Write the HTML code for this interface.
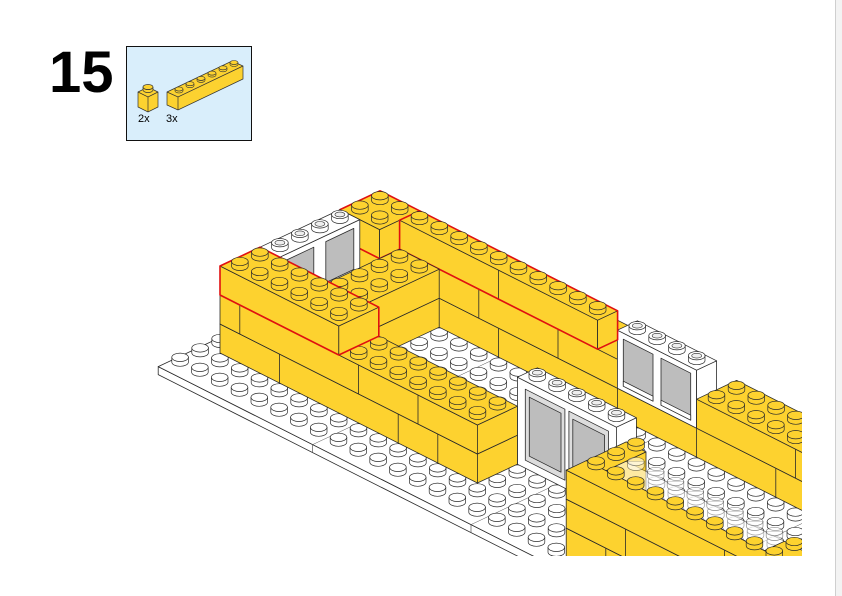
<!DOCTYPE html>
<html><head><meta charset="utf-8">
<style>
html,body{margin:0;padding:0;background:#fff;overflow:hidden;width:842px;height:596px;}
#pg{position:relative;width:842px;height:596px;overflow:hidden;background:#fff;font-family:"Liberation Sans",sans-serif;}
#edge{position:absolute;left:835px;top:0;width:7px;height:596px;background:#f3f3f3;border-left:1px solid #cfcfcf;}
#num{position:absolute;left:49px;top:40px;font-size:58px;font-weight:bold;color:#000;letter-spacing:0px;line-height:66px;}
#box{position:absolute;left:126px;top:46px;width:124px;height:93px;background:#d9eefb;border:1.5px solid #111;}
#model{position:absolute;left:0;top:0;}
</style></head>
<body><div id="pg">
<div id="edge"></div>
<div id="num">15</div>
<div id="box">
<svg width="124" height="93" style="position:absolute;left:0;top:0">
 <g stroke="#333" stroke-width="0.7" fill="#fcd230">
  <polygon points="11,45 21,40 31,45 31,60 21,65 11,60"/>
  <polyline points="11,45 21,50 31,45" fill="none"/><line x1="21" y1="50" x2="21" y2="65"/>
  <path d="M16,43 v-3 a5,2.5 0 0 0 10,0 v3 a5,2.5 0 0 1 -10,0z"/>
  <ellipse cx="21" cy="40" rx="5" ry="2.5"/>
  <polygon points="40,45 105,14 116,19 116,32 51,63 40,58"/>
  <polyline points="40,45 51,50 116,19" fill="none"/><line x1="51" y1="50" x2="51" y2="63"/>
 </g>
 <g stroke="#333" stroke-width="0.6" fill="#fcd230" id="st"></g>
 <text x="11" y="75" font-size="11" font-family="Liberation Sans,sans-serif">2x</text>
 <text x="39" y="75" font-size="11" font-family="Liberation Sans,sans-serif">3x</text>
</svg>
</div>
<svg id="model" width="802" height="556" viewBox="0 0 802 556"></svg>
</div>
<script>
(function(){
 var s='';for(var k=0;k<6;k++){var x=52+k*11,y=44-k*5.3;
 s+='<path d="M'+(x-4)+','+y+' v-2 a4,2 0 0 0 8,0 v2 a4,2 0 0 1 -8,0z"/><ellipse cx="'+x+'" cy="'+(y-2)+'" rx="4" ry="2"/>';}
 document.getElementById('st').innerHTML=s;
})();
(function(){
var O=[160.2,361.8],U=[19.8,10],V=[20,-9.4];
function P(a,b,z){return [O[0]+a*U[0]+b*V[0],O[1]+a*U[1]+b*V[1]-z];}
function pts(arr){return arr.map(function(p){return p[0].toFixed(1)+','+p[1].toFixed(1);}).join(' ');}
var out=[];
var LC='#2a2a2a';
function poly(arr,fill,stroke,sw,extra){out.push('<polygon points="'+pts(arr)+'" fill="'+fill+'" stroke="'+(stroke||LC)+'" stroke-width="'+(sw||0.8)+'" stroke-linejoin="round" '+(extra||'')+'/>');}
function stud(a,b,z,col,hollow,op){
 var c=P(a,b,z),x=c[0],y=c[1],rx=8.3,ry=4.2,h=4.8;
 var o=op?' opacity="'+op+'"':'';
 out.push('<path d="M'+(x-rx).toFixed(1)+','+(y-h).toFixed(1)+' L'+(x-rx).toFixed(1)+','+y.toFixed(1)+' A'+rx+','+ry+' 0 0 0 '+(x+rx).toFixed(1)+','+y.toFixed(1)+' L'+(x+rx).toFixed(1)+','+(y-h).toFixed(1)+' Z" fill="'+col+'" stroke="'+LC+'" stroke-width="0.7"'+o+'/>');
 out.push('<ellipse cx="'+x.toFixed(1)+'" cy="'+(y-h).toFixed(1)+'" rx="'+rx+'" ry="'+ry+'" fill="'+col+'" stroke="'+LC+'" stroke-width="0.7"'+o+'/>');
 if(hollow)out.push('<ellipse cx="'+x.toFixed(1)+'" cy="'+(y-h).toFixed(1)+'" rx="5" ry="2.4" fill="#eee" stroke="'+LC+'" stroke-width="0.6"/>');
}
function box(a0,a1,b0,b1,z0,z1,col,o){
 o=o||{};
 var op=o.op?'opacity="'+o.op+'"':'';
 poly([P(a0,b0,z0),P(a1,b0,z0),P(a1,b0,z1),P(a0,b0,z1)],o.front||col,null,null,op);
 poly([P(a1,b0,z0),P(a1,b1,z0),P(a1,b1,z1),P(a1,b0,z1)],o.right||col,null,null,op);
 poly([P(a0,b0,z1),P(a1,b0,z1),P(a1,b1,z1),P(a0,b1,z1)],col,null,null,op);
 if(o.seams){o.seams.forEach(function(a){out.push('<line x1="'+P(a,b0,z0)[0].toFixed(1)+'" y1="'+P(a,b0,z0)[1].toFixed(1)+'" x2="'+P(a,b0,z1)[0].toFixed(1)+'" y2="'+P(a,b0,z1)[1].toFixed(1)+'" stroke="'+LC+'" stroke-width="0.8"/>');});}
 if(o.red){var r=[P(a0,b0,z0),P(a0,b0,z1),P(a0,b1,z1),P(a1,b1,z1),P(a1,b1,z0),P(a1,b0,z0)];
  out.push('<polygon points="'+pts(r)+'" fill="none" stroke="#e01010" stroke-width="1.6" stroke-linejoin="round"/>');}
 if(!o.nostuds){
  for(var j=Math.ceil(b1)-1;j>=b0-0.01;j--){for(var i=a0;i<a1-0.01;i++){stud(i+0.5,j+0.5,z1,o.studcol||col,o.hollow,o.op);}}
 }
}
var Y='#fdd22f',W='#ffffff',G='#bdbdbd';
var pa0=0.2,pb0=-0.3,pa1=42,pb1=11.5;
poly([P(pa0,pb0,0),P(pa1,pb0,0),P(pa1,pb0,-8),P(pa0,pb0,-8)],W);
poly([P(pa0,pb0,0),P(pa1,pb0,0),P(pa1,pb1,0),P(pa0,pb1,0)],W);
[8,16,24,32].forEach(function(s){var p1=P(s,pb0,0),p2=P(s,pb1,0),p3=P(s,pb0,-8);
 out.push('<line x1="'+p1[0]+'" y1="'+p1[1]+'" x2="'+p2[0]+'" y2="'+p2[1]+'" stroke="#555" stroke-width="0.5"/>');
 out.push('<line x1="'+p1[0]+'" y1="'+p1[1]+'" x2="'+p3[0]+'" y2="'+p3[1]+'" stroke="#555" stroke-width="0.7"/>');});
for(var j=10;j>=0;j--)for(var i=0;i<41;i++)stud(i+0.5,j+0.5,0,W);
var H=29;
box(1,3,8,10,0,H,Y,{nostuds:true});
box(1,3,8,10,H,2*H,Y,{nostuds:true});
box(3,42,9,11,0,H,Y,{nostuds:true,seams:[8,14,18,22,30]});
box(3,14,9,11,H,2*H,Y,{nostuds:true,seams:[7,11]});
box(14,18,9,10,H,3*H,W,{hollow:true});
[[14.3,15.8],[16.2,17.7]].forEach(function(r){poly([P(r[0],9,H+5),P(r[1],9,H+5),P(r[1],9,3*H-6),P(r[0],9,3*H-6)],G);
 poly([P(r[0],9,H+5),P(r[1],9,H+5),P(r[1],9,H+10),P(r[0],9,H+10)],'#fff');});
box(18,42,9,11,H,2*H,Y,{seams:[23,26,30]});
box(1,3,8,10,2*H,3*H,Y,{red:true});
box(3,13,9,10,2*H,3*H,Y,{red:true,seams:[8]});
box(1,3,4,8,0,H,Y);
box(1,2,4,8,H,3*H,W,{hollow:true});
[[4.3,5.7],[6.3,7.7]].forEach(function(r){poly([P(2,r[0],H+6),P(2,r[1],H+6),P(2,r[1],3*H-6),P(2,r[0],3*H-6)],G);
 poly([P(2,r[0],H+6),P(2,r[1],H+6),P(2,r[1],H+11),P(2,r[0],H+11)],'#fff');});
box(3,5,4,9,0,H,Y,{nostuds:true});
box(3,5,4,9,H,2*H,Y);
box(14,19,4,5,0,3*H,W,{hollow:true});
[[14.4,16.4],[16.6,18.6]].forEach(function(r){poly([P(r[0],4,8),P(r[1],4,8),P(r[1],4,3*H-8),P(r[0],4,3*H-8)],'#ddd');
 poly([P(r[0]+0.2,4,14),P(r[1]-0.2,4,14),P(r[1]-0.2,4,3*H-14),P(r[0]+0.2,4,3*H-14)],G);});
box(1,14,2,4,0,H,Y,{nostuds:true,seams:[4,10,12]});
box(1,14,2,4,H,2*H,Y,{seams:[2,8,11]});
box(1,7,2,4,2*H,3*H,Y,{red:true});
box(20,21,1.5,3.5,0,3*H,Y);
box(21,42,1.5,2.5,0,2*H,Y,{nostuds:true});
box(21,29,1.5,2.5,2*H,3*H,'#ffffff',{op:0.55,studcol:'#ffffff'});
box(29,42,1.5,2.5,2*H,3*H,Y);
box(20,42,0.5,1.5,0,H,Y,{nostuds:true,seams:[22,26]});
box(20,42,0.5,1.5,H,2*H,Y,{nostuds:true,seams:[23,29]});
box(20,42,0.5,1.5,2*H,3*H,Y,{seams:[28]});
document.getElementById('model').innerHTML=out.join('');
})();
</script>
</body></html>
